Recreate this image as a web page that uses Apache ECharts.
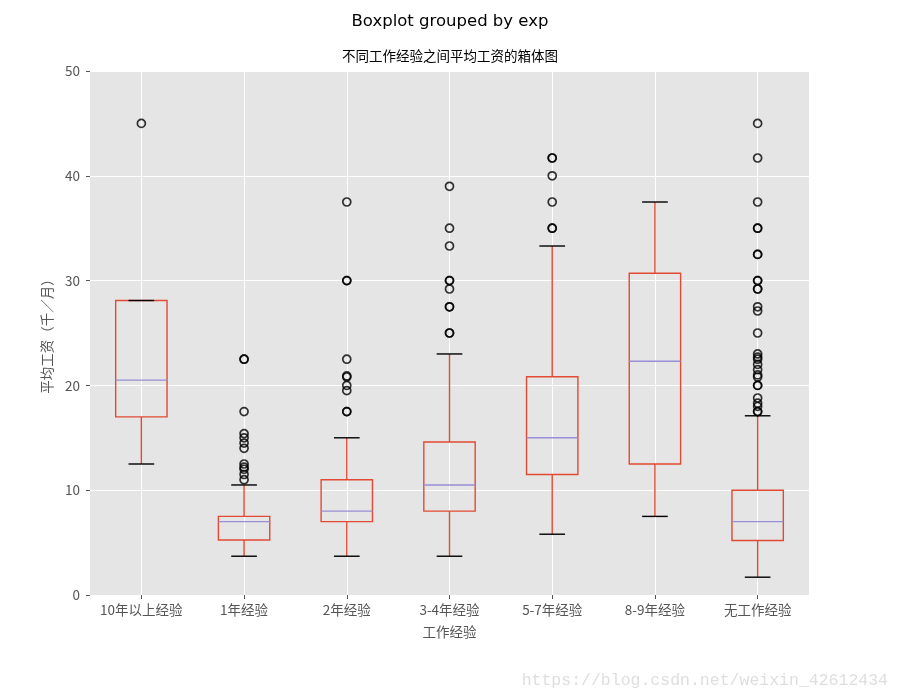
<!DOCTYPE html>
<html><head><meta charset="utf-8">
<script src="https://cdn.jsdelivr.net/npm/echarts@6/dist/echarts.min.js"></script>
<style>html,body{margin:0;padding:0;background:#fff}#c{width:900px;height:700px}</style>
</head><body><div id="c"></div>
<script>
const categories = ['10年以上经验', '1年经验', '2年经验', '3-4年经验', '5-7年经验', '8-9年经验', '无工作经验'];
const lowerWhisker = [12.5, 3.7, 3.7, 3.7, 5.8, 7.5, 1.7];
const q1 = [17.0, 5.25, 7.0, 8.0, 11.5, 12.5, 5.2];
const median = [20.5, 7.0, 8.0, 10.5, 15.0, 22.3, 7.0];
const q3 = [28.1, 7.5, 11.0, 14.6, 20.83, 30.7, 10.0];
const upperWhisker = [28.1, 10.5, 15.0, 23.0, 33.3, 37.5, 17.1];
const outliers10plus = [45];
const outliers1 = [22.5, 22.5, 17.5, 15.4, 15.0, 14.5, 14.0, 12.5, 12.2, 12.0, 11.5, 11.0];
const outliers2 = [37.5, 30.0, 30.0, 22.5, 20.9, 20.8, 20.0, 19.5, 17.5, 17.5];
const outliers34 = [39.0, 35.0, 33.3, 30.0, 30.0, 29.2, 27.5, 27.5, 25.0, 25.0];
const outliers57 = [41.7, 41.7, 40.0, 37.5, 35.0, 35.0];
const outliers89 = [];
const outliersNone = [45.0, 41.7, 37.5, 35.0, 35.0, 32.5, 32.5, 30.0, 30.0, 29.2, 29.2, 27.5, 27.1, 25.0, 23.0, 22.7, 22.5, 22.0, 21.5, 21.0, 20.8, 20.0, 20.0, 18.8, 18.3, 18.0, 17.5, 17.5];
const yMin = 0, yMax = 50, yInterval = 10;

const allOutliers = [outliers10plus, outliers1, outliers2, outliers34, outliers57, outliers89, outliersNone];
const boxData = categories.map((c, i) => [i, lowerWhisker[i], q1[i], median[i], q3[i], upperWhisker[i]]);
const outlierData = [];
allOutliers.forEach((arr, i) => arr.forEach(v => outlierData.push([i, v])));

const RED = '#E24A33', PURPLE = '#988ED5';
const chart = echarts.init(document.getElementById('c'));
const font = '"Noto Sans CJK SC", "DejaVu Sans", sans-serif';

chart.setOption({
  backgroundColor: '#fff',
  animation: false,
  title: [
    { text: 'Boxplot grouped by exp', left: 'center', top: 13, padding: 0,
      textStyle: { fontFamily: 'DejaVu Sans', fontSize: 16.5, fontWeight: 'normal', color: '#000' } },
    { text: '不同工作经验之间平均工资的箱体图', left: 'center', top: 49, padding: 0,
      textStyle: { fontFamily: font, fontSize: 13.5, fontWeight: 'normal', color: '#000' } }
  ],
  grid: { left: 90, right: 91, top: 71, bottom: 105, show: true, backgroundColor: '#E5E5E5', borderWidth: 0 },
  xAxis: {
    type: 'category', data: categories, boundaryGap: true,
    name: '工作经验', nameLocation: 'middle', nameGap: 30,
    nameTextStyle: { fontFamily: font, fontSize: 13.5, color: '#555' },
    axisLine: { show: false },
    axisTick: { show: true, alignWithLabel: true, interval: 0, length: 4, lineStyle: { color: '#555' } },
    axisLabel: { fontFamily: font, fontSize: 13.5, color: '#555', margin: 8, interval: 0 },
    splitLine: { show: true, alignWithLabel: true, interval: 0, lineStyle: { color: '#fff', width: 1 } }
  },
  yAxis: {
    type: 'value', min: yMin, max: yMax, interval: yInterval,
    name: '平均工资（千／月）', nameLocation: 'middle', nameGap: 36,
    nameTextStyle: { fontFamily: font, fontSize: 13.5, color: '#555' },
    axisLine: { show: false },
    axisTick: { show: true, length: 4, lineStyle: { color: '#555' } },
    axisLabel: { fontFamily: font, fontSize: 13.5, color: '#555', margin: 10 },
    splitLine: { show: true, lineStyle: { color: '#fff', width: 1 } }
  },
  series: [
    {
      type: 'custom',
      data: boxData,
      encode: { x: 0, y: [1, 2, 3, 4, 5] },
      renderItem: function (params, api) {
        const i = api.value(0);
        const band = api.size([1, 0])[0];
        const bh = band * 0.25, ch = band * 0.125;
        const pLo = api.coord([i, api.value(1)]);
        const pQ1 = api.coord([i, api.value(2)]);
        const pMed = api.coord([i, api.value(3)]);
        const pQ3 = api.coord([i, api.value(4)]);
        const pHi = api.coord([i, api.value(5)]);
        const x = pMed[0];
        const redStyle = { stroke: RED, lineWidth: 1.4, fill: null };
        return {
          type: 'group',
          children: [
            { type: 'line', shape: { x1: x, y1: pQ1[1], x2: x, y2: pLo[1] }, style: redStyle },
            { type: 'line', shape: { x1: x, y1: pQ3[1], x2: x, y2: pHi[1] }, style: redStyle },
            { type: 'rect', shape: { x: x - bh, y: pQ3[1], width: bh * 2, height: pQ1[1] - pQ3[1] }, style: redStyle },
            { type: 'line', shape: { x1: x - bh, y1: pMed[1], x2: x + bh, y2: pMed[1] }, style: { stroke: PURPLE, lineWidth: 1.4 } },
            { type: 'line', shape: { x1: x - ch, y1: pLo[1], x2: x + ch, y2: pLo[1] }, style: { stroke: '#000', lineWidth: 1.4 } },
            { type: 'line', shape: { x1: x - ch, y1: pHi[1], x2: x + ch, y2: pHi[1] }, style: { stroke: '#000', lineWidth: 1.4 } }
          ]
        };
      }
    },
    {
      type: 'scatter',
      data: outlierData,
      symbol: 'circle',
      symbolSize: 8,
      itemStyle: { color: 'rgba(0,0,0,0)', borderColor: '#000', borderWidth: 1.7 },
      z: 5
    }
  ],
  graphic: [
    { type: 'text', x: 888, y: 681,
      style: { text: 'https://blog.csdn.net/weixin_42612434', font: '16.5px "Liberation Mono", monospace',
               fill: '#dedede', textAlign: 'right', textVerticalAlign: 'middle' } }
  ]
});
</script></body></html>
